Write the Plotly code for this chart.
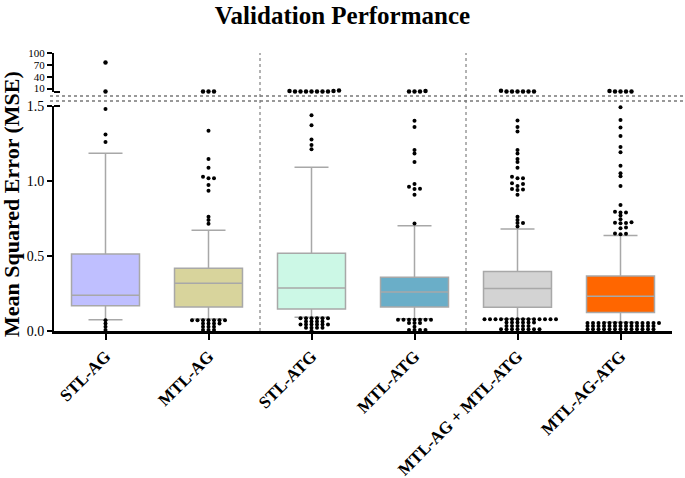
import plotly.graph_objects as go

# ---- data ----
groups = ["STL-AG", "MTL-AG", "STL-ATG", "MTL-ATG", "MTL-AG + MTL-ATG", "MTL-AG-ATG"]
colors = ["#BFBFFF", "#D8D49C", "#CCF8E6", "#6AAEC8", "#D3D3D3", "#FF6600"]

q1 = [0.169, 0.160, 0.147, 0.160, 0.158, 0.124]
median = [0.238, 0.318, 0.287, 0.260, 0.284, 0.231]
q3 = [0.513, 0.418, 0.518, 0.358, 0.396, 0.367]
lower_whisker = [0.075, 0.080, 0.091, 0.082, 0.082, 0.058]
upper_whisker = [1.185, 0.671, 1.091, 0.702, 0.680, 0.636]

# outliers shown in the lower (0 - 1.5) segment
out_stl_ag = [1.48, 1.31, 1.26,
              0.072, 0.050, 0.028, 0.006]
out_mtl_ag = [1.335, 1.147, 1.089, 1.029, 1.018, 1.018, 0.973, 0.935, 0.762, 0.740, 0.715,
              0.072, 0.072, 0.072, 0.072, 0.072, 0.072, 0.072,
              0.050, 0.050, 0.050, 0.050,
              0.028, 0.028, 0.028,
              0.006, 0.006, 0.006]
out_stl_atg = [1.438, 1.371, 1.276, 1.240, 1.211,
               0.085, 0.085, 0.085, 0.085, 0.085, 0.085,
               0.064, 0.064, 0.064, 0.064,
               0.043, 0.043, 0.043, 0.043, 0.043, 0.043,
               0.022, 0.022, 0.022, 0.022,
               0.001]
out_mtl_atg = [1.402, 1.360, 1.207, 1.184, 1.127, 0.980, 0.962, 0.949, 0.946, 0.909, 0.716,
               0.075, 0.075, 0.075, 0.075, 0.075, 0.075, 0.075,
               0.054, 0.054, 0.054,
               0.028,
               0.006, 0.006, 0.006, 0.006]
out_combo = [1.404, 1.360, 1.330, 1.207, 1.184, 1.147, 1.127, 1.089, 1.028, 1.018, 1.018,
             0.985, 0.980, 0.967, 0.946, 0.944, 0.940, 0.909, 0.762, 0.740, 0.720, 0.720, 0.697,
             0.078, 0.078, 0.078, 0.078, 0.078, 0.078, 0.078,
             0.078, 0.078, 0.078, 0.078, 0.078, 0.078, 0.078,
             0.056, 0.056, 0.056, 0.056, 0.056, 0.056,
             0.034, 0.034, 0.034, 0.034, 0.034,
             0.012, 0.012, 0.012, 0.012, 0.012, 0.012, 0.012, 0.012]
out_ag_atg = [1.491, 1.407, 1.356, 1.300, 1.227, 1.191, 1.102, 1.051, 1.031, 0.967,
              0.840, 0.795, 0.790, 0.790, 0.770, 0.745, 0.725, 0.722, 0.720, 0.718,
              0.690, 0.685, 0.650, 0.648, 0.645,
              0.054, 0.054, 0.054, 0.054, 0.054, 0.054, 0.054,
              0.054, 0.054, 0.054, 0.054, 0.054, 0.054, 0.054,
              0.033, 0.033, 0.033, 0.033, 0.033, 0.033, 0.033,
              0.033, 0.033, 0.033, 0.033, 0.033, 0.033,
              0.012, 0.012, 0.012, 0.012, 0.012, 0.012, 0.012,
              0.012, 0.012, 0.012, 0.012, 0.012, 0.012]
low_outliers = [out_stl_ag, out_mtl_ag, out_stl_atg, out_mtl_atg, out_combo, out_ag_atg]

# outliers above the axis break (1.5 - 100 segment)
high_outliers = [
    [76.0, 2.5],
    [2.5, 2.5, 2.5],
    [2.5, 5.0, 2.5, 2.5, 2.5, 2.5, 2.5, 2.5, 4.0, 4.0],
    [2.5, 4.0, 2.5, 3.0],
    [2.5, 2.5, 2.5, 2.5, 2.5, 2.5, 4.5],
    [2.5, 2.5, 4.0, 2.5, 2.5],
]

# ---- layout geometry ----
W, H = 685, 478
ML, MR, MT, MB = 54, 13, 53, 147
plot_w = W - ML - MR
plot_h = H - MT - MB
low_top_px = 225          # height of the 0-1.5 segment
up_bottom_px = 239        # distance from x axis to bottom of the upper segment
low_dom = [0, low_top_px / plot_h]
up_dom = [up_bottom_px / plot_h, 1]
px_per_cat = plot_w / 6
px_low = low_top_px / 1.5
px_up = (plot_h - up_bottom_px) / 98.5


def swarm(values, px_per_unit, step=5.5, dmin=3.0):
    """simple beeswarm: horizontal offsets (in category units) so dots don't overlap"""
    placed = []
    offs = [0.0] * len(values)
    cands = [0]
    for j in range(1, 40):
        cands += [j, -j]
    for i in sorted(range(len(values)), key=lambda k: values[k]):
        y = values[i] * px_per_unit
        for c in cands:
            x = c * step
            if all((x - a) ** 2 + (y - b) ** 2 >= dmin ** 2 for a, b in placed):
                break
        placed.append((x, y))
        offs[i] = x / px_per_cat
    return offs


serif = "Liberation Serif, Times New Roman, serif"
fig = go.Figure()

for i, g in enumerate(groups):
    fig.add_trace(go.Box(
        x=[i], q1=[q1[i]], median=[median[i]], q3=[q3[i]],
        lowerfence=[lower_whisker[i]], upperfence=[upper_whisker[i]],
        width=0.66, whiskerwidth=0.5, boxpoints=False,
        fillcolor=colors[i], line=dict(color="#A8A8A8", width=1.5),
        name=g, showlegend=False, hoverinfo="skip"))

for i in range(len(groups)):
    offs = swarm(low_outliers[i], px_low)
    fig.add_trace(go.Scatter(
        x=[i + o for o in offs], y=low_outliers[i], mode="markers",
        marker=dict(color="black", size=4), cliponaxis=False,
        showlegend=False, hoverinfo="skip"))
    offs = swarm(high_outliers[i], px_up)
    fig.add_trace(go.Scatter(
        x=[i + o for o in offs], y=high_outliers[i], mode="markers",
        marker=dict(color="black", size=4.5), cliponaxis=False,
        xaxis="x", yaxis="y2", showlegend=False, hoverinfo="skip"))

# dotted separators between pairs
for xs in [1.5, 3.5]:
    fig.add_shape(type="line", xref="x", yref="paper", x0=xs, x1=xs, y0=0, y1=1,
                  line=dict(color="#666666", width=1, dash="dot"))

# axis-break marks
for ypx in [96, 101]:
    yp = (H - MB - ypx) / plot_h
    fig.add_shape(type="line", xref="paper", yref="paper",
                  x0=-4 / plot_w, x1=(W - ML) / plot_w, y0=yp, y1=yp,
                  line=dict(color="#777777", width=1.5, dash="dot"))
for yp in [up_dom[0], low_dom[1]]:
    fig.add_shape(type="line", xref="paper", yref="paper",
                  x0=0, x1=6 / plot_w, y0=yp, y1=yp,
                  line=dict(color="black", width=2))

fig.update_layout(
    width=W, height=H,
    margin=dict(l=ML, r=MR, t=MT, b=MB, autoexpand=False),
    paper_bgcolor="white", plot_bgcolor="white",
    boxmode="overlay",
    title=dict(text="Validation Performance", x=0.5, xanchor="center",
               xref="container", yref="container",
               y=1 - 15 / H, yanchor="middle",
               font=dict(family=serif, size=25, color="black", weight="bold")),
    xaxis=dict(range=[-0.5, 5.5], tickvals=list(range(6)), ticktext=groups,
               tickangle=-45, showgrid=False, zeroline=False, automargin=False,
               showline=True, linecolor="black", linewidth=2.5,
               ticks="outside", ticklen=6, tickwidth=2, tickcolor="black",
               tickfont=dict(family=serif, size=17, color="black", weight="bold"),
               anchor="y"),
    yaxis=dict(domain=low_dom, range=[0, 1.5], tickvals=[0, 0.5, 1.0, 1.5],
               ticktext=["0.0", "0.5", "1.0", "1.5"], showgrid=False, zeroline=False,
               automargin=False,
               showline=True, linecolor="black", linewidth=2,
               ticks="outside", ticklen=5, tickwidth=2, tickcolor="black",
               tickfont=dict(family=serif, size=14, color="black")),
    yaxis2=dict(domain=up_dom, range=[1.5, 100], tickvals=[10, 40, 70, 100],
                showgrid=False, zeroline=False, anchor="x", automargin=False,
                showline=True, linecolor="black", linewidth=2,
                ticks="outside", ticklen=5, tickwidth=2, tickcolor="black",
                tickfont=dict(family=serif, size=11, color="black")),
    annotations=[dict(text="Mean Squared Error (MSE)", textangle=-90,
                      xref="paper", yref="paper", x=(11 - ML) / plot_w,
                      y=(H - MB - 204) / plot_h, xanchor="center", yanchor="middle",
                      showarrow=False,
                      font=dict(family=serif, size=22, color="black", weight="bold"))],
)

# the page body has a default 8px margin; drop it so the figure sits at the window's corner
fig.write_html("out.html", config={"displayModeBar": False},
               post_script="document.body.style.margin='0';")
